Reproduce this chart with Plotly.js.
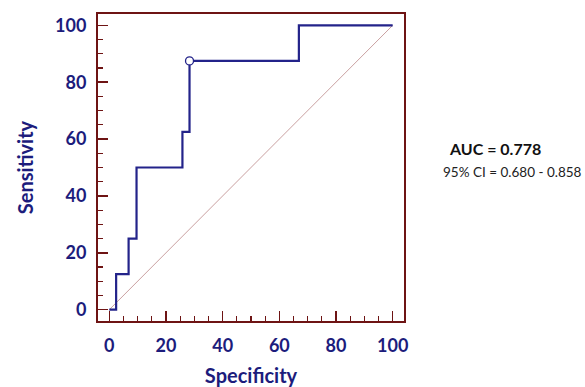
<!DOCTYPE html>
<html>
<head>
<meta charset="utf-8">
<script src="https://cdn.plot.ly/plotly-3.0.1.min.js"></script>
<style>html,body{margin:0;padding:0;background:#fff;}#chart{width:585px;height:387px;}</style>
</head>
<body>
<div id="chart"></div>
<script>
// ROC curve step points (specificity axis, sensitivity)
var specificity = [0, 2.4, 6.8, 9.6, 25.8, 28.3, 66.9, 100];
var sensitivity = [0, 12.5, 25, 50, 62.5, 87.5, 100, 100];
// chance diagonal
var diagX = [0, 100];
var diagY = [0, 100];
// criterion point
var critX = [28.3];
var critY = [87.5];
var tickVals = [0, 20, 40, 60, 80, 100];
var tickText = ['0', '20', '40', '60', '80', '100'];
var aucText = 'AUC = 0.778';
var ciText = '95% CI = 0.680 - 0.858';

var navy = '#1c1c7c';
var maroon = '#6e1414';
var fontFam = 'Lato, "Open Sans", sans-serif';

var traces = [
  {x: diagX, y: diagY, mode: 'lines', line: {color: '#c9a0a0', width: 1}, hoverinfo: 'skip'},
  {x: specificity, y: sensitivity, mode: 'lines', line: {color: '#23238a', width: 2.2, shape: 'hv'}},
  {x: critX, y: critY, mode: 'markers', marker: {size: 8, color: '#ffffff', line: {color: '#23238a', width: 1.3}}}
];

function axis(titleText, standoff) {
  return {
    range: [-4, 104],
    showgrid: false,
    zeroline: false,
    showline: true,
    linecolor: maroon,
    linewidth: 2,
    mirror: true,
    ticks: 'inside',
    ticklen: 10,
    tickwidth: 1.5,
    tickcolor: maroon,
    tickvals: tickVals,
    ticktext: tickText,
    tickfont: {family: fontFam, size: 18, color: navy, weight: 'bold'},
    minor: {dtick: 5, tick0: 0, ticks: 'inside', ticklen: 5, tickwidth: 1.2, tickcolor: maroon, showgrid: false},
    title: {text: titleText, font: {family: fontFam, size: 20, color: navy, weight: 'bold'}, standoff: standoff},
    fixedrange: true
  };
}

var xa = axis('Specificity', 16);
xa.ticklabelstandoff = 7;
var ya = axis('Sensitivity', 16);
ya.ticklabelstandoff = 6;

var layout = {
  width: 585, height: 387,
  margin: {l: 98, r: 181, t: 14, b: 66},
  paper_bgcolor: '#ffffff', plot_bgcolor: '#ffffff',
  showlegend: false,
  xaxis: xa,
  yaxis: ya,
  annotations: [
    {xref: 'paper', yref: 'paper', x: 1.141, y: 0.5635, text: '<b>' + aucText + '</b>', showarrow: false,
     font: {family: fontFam, size: 16, color: '#111111'}, xanchor: 'left', yanchor: 'middle'},
    {xref: 'paper', yref: 'paper', x: 1.122, y: 0.4863, text: ciText, showarrow: false,
     font: {family: fontFam, size: 13.5, color: '#222222'}, xanchor: 'left', yanchor: 'middle'}
  ]
};

Plotly.newPlot('chart', traces, layout, {displayModeBar: false, staticPlot: true});
</script>
</body>
</html>
